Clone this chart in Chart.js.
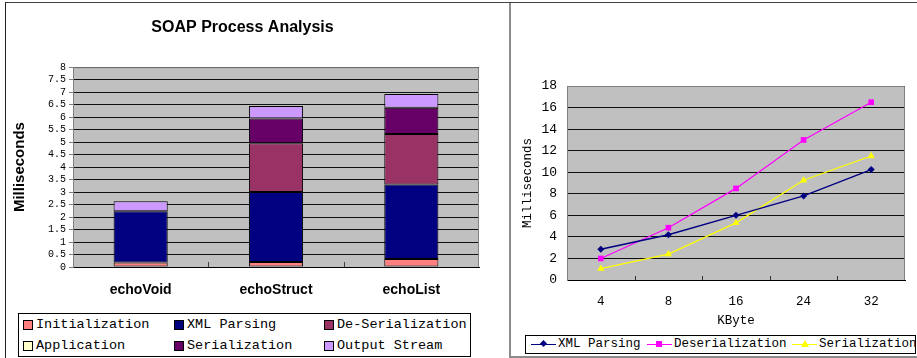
<!DOCTYPE html>
<html>
<head>
<meta charset="utf-8">
<script src="https://cdn.jsdelivr.net/npm/chart.js@4/dist/chart.umd.min.js"></script>
<style>
  html, body { margin: 0; padding: 0; background: #fff; }
  #page { position: relative; width: 917px; height: 358px; overflow: hidden; background: #fff; }
  .rule { position: absolute; }
  #barWrap { position: absolute; left: 0; top: 0; width: 509px; height: 305px; }
  #lineWrap { position: absolute; left: 511px; top: 0; width: 406px; height: 332px; }
  .legend { position: absolute; border: 1px solid #000; background: #fff; color: #000;
            font-family: "Liberation Mono", monospace; }
  #barLegend { left: 18px; top: 313px; width: 451px; height: 42px; font-size: 13.5px; }
  #lineLegend { left: 525px; top: 335px; width: 389px; height: 17px; font-size: 12.5px; }
  .item { position: absolute; height: 16px; line-height: 16px; white-space: nowrap; }
  .swatch { position: absolute; left: 0; top: 3px; width: 8px; height: 8px; border: 1px solid #000; }
  .item .label { position: absolute; left: 13px; top: 0; }
  .key { position: absolute; left: 0; top: 8px; width: 25px; height: 1px; }
  .mark { position: absolute; }
  .lineItem .label { left: 27px; }
</style>
</head>
<body>
<div id="page">
  <div class="rule" style="left:5px;top:2px;width:912px;height:1px;background:#404040"></div>
  <div class="rule" style="left:5px;top:2px;width:1px;height:356px;background:#202020"></div>
  <div class="rule" style="left:509px;top:3px;width:2px;height:355px;background:#8c8c8c"></div>
  <div class="rule" style="left:511px;top:356px;width:406px;height:2px;background:#8c8c8c"></div>
  <div id="barWrap"><canvas id="barChart"></canvas></div>
  <div id="lineWrap"><canvas id="lineChart"></canvas></div>
  <div id="barLegend" class="legend"></div>
  <div id="lineLegend" class="legend"></div>
</div>
<script>
// ---- SOAP process breakdown (stacked bars) ----
const callTypes = ['echoVoid', 'echoStruct', 'echoList'];
const initialization  = [0.18, 0.20, 0.32];
const xmlParsing      = [2.05, 2.80, 2.98];
const deSerialization = [0.00, 1.95, 2.03];
const application     = [0.00, 0.00, 0.00];
const serialization   = [0.00, 1.00, 1.05];
const outputStream    = [0.40, 0.50, 0.55];
const phaseNames = ['Initialization', 'XML Parsing', 'De-Serialization',
                    'Application', 'Serialization', 'Output Stream'];
const barMaxY = 8;
const barStepY = 0.5;

// ---- processing time against message size (lines) ----
const sizesKB = ['4', '8', '16', '24', '32'];
const xmlParsingBySize      = [2.85, 4.2, 6.0, 7.8, 10.25];
const deserializationBySize = [2.0, 4.85, 8.5, 13.0, 16.5];
const serializationBySize   = [1.05, 2.4, 5.3, 9.25, 11.5];
const lineSeriesNames = ['XML Parsing', 'Deserialization', 'Serialization'];
const lineMaxY = 18;
const lineStepY = 2;

const phaseColors = ['#ff8080', '#000080', '#993366', '#ffffcc', '#660066', '#cc99ff'];
const lineColors = ['#000080', '#ff00ff', '#ffff00'];
const lineMarkers = ['rectRot', 'rect', 'triangle'];
const markerRadius = [3.5, 4, 4.2];

Chart.defaults.font.family = '"Liberation Sans", Arial, sans-serif';
Chart.defaults.color = '#000';
Chart.defaults.animation = false;

// grey plot background, plot frame and short inward ticks between categories
const plotFrame = {
  id: 'plotFrame',
  beforeDraw(chart, args, opts) {
    const { ctx, chartArea: a } = chart;
    ctx.save();
    ctx.fillStyle = opts.fill;
    ctx.fillRect(a.left, a.top, a.right - a.left, a.bottom - a.top);
    ctx.restore();
  },
  beforeDatasetsDraw(chart, args, opts) {
    const { ctx, chartArea: a } = chart;
    ctx.save();
    ctx.lineWidth = 1;
    ctx.strokeStyle = opts.stroke;
    ctx.beginPath();
    ctx.moveTo(a.left + 0.5, a.bottom);
    ctx.lineTo(a.left + 0.5, a.top + 0.5);
    ctx.lineTo(a.right - 0.5, a.top + 0.5);
    ctx.lineTo(a.right - 0.5, a.bottom);
    ctx.stroke();
    const x = chart.scales.x;
    ctx.strokeStyle = opts.tickColor;
    for (let i = 1; i < x.ticks.length; i++) {
      const px = Math.round((x.getPixelForTick(i - 1) + x.getPixelForTick(i)) / 2) + 0.5;
      ctx.beginPath();
      ctx.moveTo(px, a.bottom);
      ctx.lineTo(px, a.bottom - opts.tick);
      ctx.stroke();
    }
    ctx.restore();
  }
};

const phaseData = [initialization, xmlParsing, deSerialization, application, serialization, outputStream];

new Chart(document.getElementById('barChart'), {
  type: 'bar',
  data: {
    labels: callTypes,
    datasets: phaseData.map((values, i) => ({
      label: phaseNames[i],
      data: values,
      backgroundColor: phaseColors[i],
      borderColor: '#000',
      borderWidth: c => (c.raw ? 1 : 0),
      borderSkipped: false,
      barPercentage: 0.4,
      categoryPercentage: 1.0
    }))
  },
  plugins: [plotFrame],
  options: {
    responsive: true,
    maintainAspectRatio: false,
    layout: { padding: { left: 6, right: 30, top: 0, bottom: 0 } },
    plugins: {
      legend: { display: false },
      tooltip: { enabled: false },
      title: {
        display: true,
        text: 'SOAP Process Analysis',
        font: { size: 16, weight: 'bold' },
        padding: { top: 18, bottom: 30 }
      },
      plotFrame: { fill: '#c0c0c0', stroke: '#808080', tickColor: '#404040', tick: 5 }
    },
    scales: {
      x: {
        stacked: true,
        grid: { display: true, drawOnChartArea: false, drawTicks: false },
        border: { display: true, color: '#000', width: 1 },
        ticks: { font: { size: 14, weight: 'bold' }, padding: 15 },
        afterFit: s => { s.height = 38; }
      },
      y: {
        stacked: true,
        min: 0,
        max: barMaxY,
        ticks: {
          stepSize: barStepY,
          autoSkip: false,
          padding: 3,
          font: { family: '"Liberation Mono", monospace', size: 10, lineHeight: 1 },
          callback: v => String(v)
        },
        grid: { color: '#111', lineWidth: 1, tickColor: '#808080', tickLength: 4 },
        border: { display: true, color: '#808080', width: 1 },
        title: {
          display: true,
          text: 'Milliseconds',
          font: { size: 15, weight: 'bold' },
          padding: { top: 5, bottom: 0 }
        },
        afterFit: s => { s.width = 67; }
      }
    }
  }
});

const sizeSeries = [xmlParsingBySize, deserializationBySize, serializationBySize];

new Chart(document.getElementById('lineChart'), {
  type: 'line',
  data: {
    labels: sizesKB,
    datasets: sizeSeries.map((values, i) => ({
      label: lineSeriesNames[i],
      data: values,
      borderColor: lineColors[i],
      backgroundColor: lineColors[i],
      borderWidth: i === 0 ? 1.4 : 1.2,
      pointStyle: lineMarkers[i],
      pointRadius: markerRadius[i],
      pointBorderWidth: 0,
      tension: 0,
      fill: false
    }))
  },
  plugins: [plotFrame],
  options: {
    responsive: true,
    maintainAspectRatio: false,
    layout: { padding: { left: 0, right: 12, top: 86, bottom: 0 } },
    plugins: {
      legend: { display: false },
      tooltip: { enabled: false },
      plotFrame: { fill: '#c0c0c0', stroke: '#808080', tickColor: '#303030', tick: 4 }
    },
    scales: {
      x: {
        offset: true,
        grid: { display: true, drawOnChartArea: false, drawTicks: false },
        border: { display: true, color: '#000', width: 1 },
        ticks: { font: { family: '"Liberation Mono", monospace', size: 12.5 }, padding: 14 },
        title: {
          display: true,
          text: 'KByte',
          font: { family: '"Liberation Mono", monospace', size: 12.5 },
          padding: { top: 0, bottom: 4 }
        },
        afterFit: s => { s.height = 52; }
      },
      y: {
        min: 0,
        max: lineMaxY,
        ticks: {
          stepSize: lineStepY,
          autoSkip: false,
          padding: 10,
          font: { family: '"Liberation Mono", monospace', size: 13 }
        },
        grid: { color: '#111', lineWidth: 1, drawTicks: false },
        border: { display: true, color: '#808080', width: 1 },
        title: {
          display: true,
          text: 'Milliseconds',
          font: { family: '"Liberation Mono", monospace', size: 12.5 },
          padding: { top: 9.5, bottom: 0 }
        },
        afterFit: s => { s.width = 56; }
      }
    }
  }
});

// ---- legends ----
const barLegend = document.getElementById('barLegend');
const barCols = [4, 155, 305];
const barRows = [3, 24];
phaseNames.forEach((name, i) => {
  const item = document.createElement('div');
  item.className = 'item';
  item.style.left = barCols[i % 3] + 'px';
  item.style.top = barRows[Math.floor(i / 3)] + 'px';
  const sw = document.createElement('div');
  sw.className = 'swatch';
  sw.style.background = phaseColors[i];
  const lab = document.createElement('span');
  lab.className = 'label';
  lab.textContent = name;
  item.appendChild(sw);
  item.appendChild(lab);
  barLegend.appendChild(item);
});

const lineLegend = document.getElementById('lineLegend');
const lineCols = [5, 121, 266];
lineSeriesNames.forEach((name, i) => {
  const item = document.createElement('div');
  item.className = 'item lineItem';
  item.style.left = lineCols[i] + 'px';
  item.style.top = '0px';
  const key = document.createElement('div');
  key.className = 'key';
  key.style.background = lineColors[i];
  const mark = document.createElement('div');
  mark.className = 'mark';
  if (lineMarkers[i] === 'rectRot') {
    Object.assign(mark.style, { left: '10px', top: '5px', width: '5px', height: '5px',
      background: lineColors[i], transform: 'rotate(45deg)' });
  } else if (lineMarkers[i] === 'rect') {
    Object.assign(mark.style, { left: '9px', top: '5px', width: '6px', height: '6px',
      background: lineColors[i] });
  } else {
    Object.assign(mark.style, { left: '8.5px', top: '4px', width: '0', height: '0',
      borderLeft: '4px solid transparent', borderRight: '4px solid transparent',
      borderBottom: '7px solid ' + lineColors[i] });
  }
  const lab = document.createElement('span');
  lab.className = 'label';
  lab.textContent = name;
  item.appendChild(key);
  item.appendChild(mark);
  item.appendChild(lab);
  lineLegend.appendChild(item);
});
</script>
</body>
</html>
